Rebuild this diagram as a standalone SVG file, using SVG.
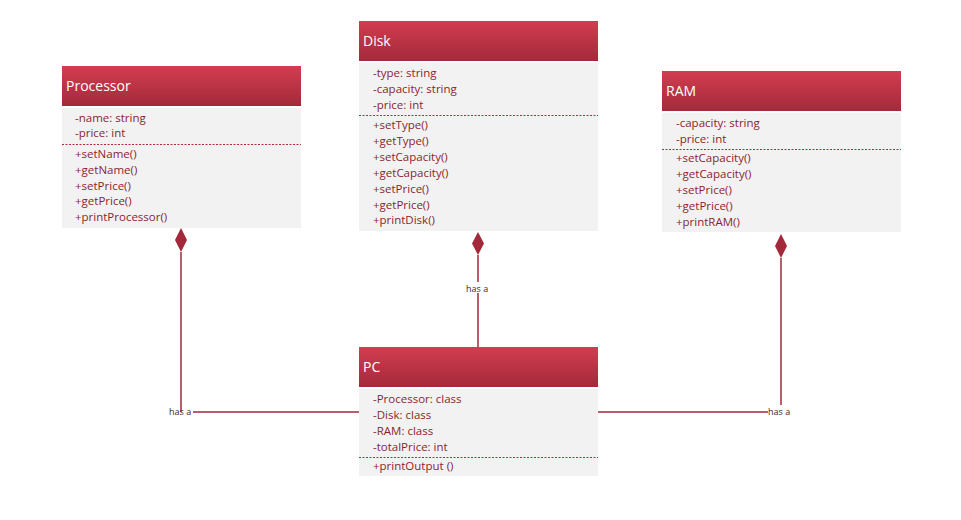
<svg xmlns="http://www.w3.org/2000/svg" width="961" height="520" viewBox="0 0 961 520">
  <defs>
    <linearGradient id="hdr" x1="0" y1="0" x2="0" y2="1">
      <stop offset="0" stop-color="#D23D50"/>
      <stop offset="1" stop-color="#A32A3A"/>
    </linearGradient>
    <style>
      .hdr { fill: url(#hdr); }
      .body { fill: #F2F2F2; }
      .title { font-family: "Open Sans", "Liberation Sans", sans-serif; font-size: 14px; fill: #FFFFFF; }
      .item { font-family: "Open Sans", "Liberation Sans", sans-serif; font-size: 11.5px; fill: #8A1F2E; }
      .sep { stroke: #B3293C; stroke-width: 1; stroke-dasharray: 2 1.5; }
      .link { stroke: #A3283A; stroke-width: 1.5; fill: none; }
      .dia { fill: #A3283A; }
      .lbl { font-family: "Open Sans", "Liberation Sans", sans-serif; font-size: 9px; fill: #4A2329; }
    </style>
  </defs>
  <rect width="961" height="520" fill="#FFFFFF"/>

  <!-- composition connectors -->
  <g id="connectors">
    <path class="link" d="M181,252 V412" />
    <path class="link" d="M193,412 H359" />
    <path class="dia" d="M181,228 L187,240 L181,252 L175,240 Z"/>
    <text class="lbl" x="169" y="415">has a</text>

    <path class="link" d="M478,255 V347" />
    <path class="dia" d="M478,232 L484,243.5 L478,255 L472,243.5 Z"/>
    <rect x="466" y="282" width="26" height="11" fill="#FFFFFF"/>
    <text class="lbl" x="466" y="292">has a</text>

    <path class="link" d="M781,258 V405" />
    <path class="link" d="M598,412 H768" />
    <path class="dia" d="M781,234 L787,246 L781,258 L775,246 Z"/>
    <text class="lbl" x="768" y="415">has a</text>
  </g>

  <!-- Processor class -->
  <g id="processor">
    <rect class="hdr" x="62" y="66" width="239" height="40"/>
    <rect class="body" x="62" y="108" width="239" height="120"/>
    <text class="title" x="66" y="91">Processor</text>
    <text class="item" x="75" y="122">-name: string</text>
    <text class="item" x="75" y="137">-price: int</text>
    <line class="sep" x1="62" y1="144.5" x2="301" y2="144.5"/>
    <text class="item" x="75" y="158">+setName()</text>
    <text class="item" x="75" y="174">+getName()</text>
    <text class="item" x="75" y="190">+setPrice()</text>
    <text class="item" x="75" y="205">+getPrice()</text>
    <text class="item" x="75" y="221">+printProcessor()</text>
  </g>

  <!-- Disk class -->
  <g id="disk">
    <rect class="hdr" x="359" y="21" width="239" height="40"/>
    <rect class="body" x="359" y="63" width="239" height="168"/>
    <text class="title" x="363" y="46">Disk</text>
    <text class="item" x="373" y="77">-type: string</text>
    <text class="item" x="373" y="93">-capacity: string</text>
    <text class="item" x="373" y="109">-price: int</text>
    <line class="sep" x1="359" y1="115.5" x2="598" y2="115.5"/>
    <text class="item" x="373" y="129">+setType()</text>
    <text class="item" x="373" y="145">+getType()</text>
    <text class="item" x="373" y="161">+setCapacity()</text>
    <text class="item" x="373" y="177">+getCapacity()</text>
    <text class="item" x="373" y="193">+setPrice()</text>
    <text class="item" x="373" y="209">+getPrice()</text>
    <text class="item" x="373" y="224">+printDisk()</text>
  </g>

  <!-- RAM class -->
  <g id="ram">
    <rect class="hdr" x="662" y="71" width="239" height="40"/>
    <rect class="body" x="662" y="113" width="239" height="119"/>
    <text class="title" x="666" y="96">RAM</text>
    <text class="item" x="676" y="127">-capacity: string</text>
    <text class="item" x="676" y="143">-price: int</text>
    <line class="sep" x1="662" y1="149.5" x2="901" y2="149.5"/>
    <text class="item" x="676" y="162">+setCapacity()</text>
    <text class="item" x="676" y="178">+getCapacity()</text>
    <text class="item" x="676" y="194">+setPrice()</text>
    <text class="item" x="676" y="210">+getPrice()</text>
    <text class="item" x="676" y="226">+printRAM()</text>
  </g>

  <!-- PC class -->
  <g id="pc">
    <rect class="hdr" x="359" y="347" width="239" height="40"/>
    <rect class="body" x="359" y="389" width="239" height="87"/>
    <text class="title" x="363" y="372">PC</text>
    <text class="item" x="373" y="403">-Processor: class</text>
    <text class="item" x="373" y="419">-Disk: class</text>
    <text class="item" x="373" y="435">-RAM: class</text>
    <text class="item" x="373" y="451">-totalPrice: int</text>
    <line class="sep" x1="359" y1="457.5" x2="598" y2="457.5"/>
    <text class="item" x="373" y="470">+printOutput ()</text>
  </g>
</svg>
